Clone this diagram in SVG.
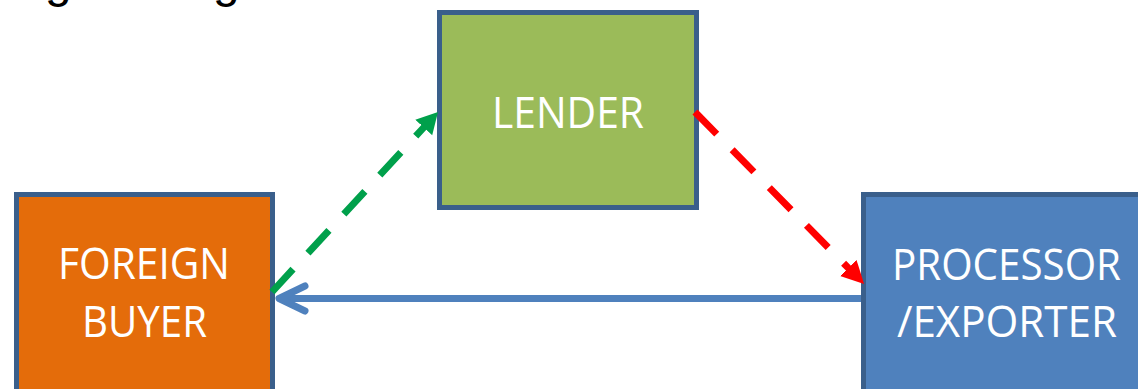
<svg xmlns="http://www.w3.org/2000/svg" width="1138" height="389" viewBox="0 0 1138 389">
<style>
.box{stroke:#3A5F8B;stroke-width:5}
.lbl{font-family:"Open Sans","Liberation Sans",sans-serif;font-size:44px;fill:#FFFFFF}
.head{font-family:"Liberation Sans",Arial,sans-serif;font-size:48px;fill:#000000}
.dash{fill:none;stroke-width:7;stroke-dasharray:31 22}
</style>
<defs>
<marker id="ahG" markerUnits="userSpaceOnUse" markerWidth="22" markerHeight="24" refX="2" refY="11.5" orient="auto" viewBox="0 0 22 24">
<path d="M0,0 L21,11.5 L0,23 Z" fill="#00A04B"/>
</marker>
<marker id="ahR" markerUnits="userSpaceOnUse" markerWidth="24" markerHeight="24" refX="2" refY="11.5" orient="auto" viewBox="0 0 24 24">
<path d="M0,0 L22.5,11.5 L0,23 Z" fill="#FF0000"/>
</marker>
</defs>
<text class="head" x="45" y="-3">g</text>
<text class="head" x="213" y="-3">g</text>
<g id="lender">
<rect class="box" x="439.5" y="12.5" width="257" height="195" fill="#9BBB59"/>
<text class="lbl" x="492" y="128" textLength="152" lengthAdjust="spacingAndGlyphs">LENDER</text>
</g>
<g id="foreign-buyer">
<rect class="box" x="16.5" y="194.5" width="256" height="220" fill="#E46C0A"/>
<text class="lbl" x="58" y="279" textLength="172" lengthAdjust="spacingAndGlyphs">FOREIGN</text>
<text class="lbl" x="82" y="337" textLength="125" lengthAdjust="spacingAndGlyphs">BUYER</text>
</g>
<g id="processor-exporter">
<rect class="box" x="863.5" y="194.5" width="300" height="220" fill="#4F81BD"/>
<text class="lbl" x="892" y="280" textLength="229" lengthAdjust="spacingAndGlyphs">PROCESSOR</text>
<text class="lbl" x="897" y="337" textLength="220" lengthAdjust="spacingAndGlyphs">/EXPORTER</text>
</g>
<g id="connectors">
<path class="dash" d="M272,292 L425.1,126" stroke="#00A04B" marker-end="url(#ahG)"/>
<path class="dash" d="M695,112 L849.7,269.4" stroke="#FF0000" marker-end="url(#ahR)"/>
<path d="M861,298.5 L280,298.5" fill="none" stroke="#4F81BD" stroke-width="7"/>
<path d="M305,286 L279,298.5 L305,311" fill="none" stroke="#4F81BD" stroke-width="7" stroke-linecap="round" stroke-linejoin="round"/>
</g>
</svg>
